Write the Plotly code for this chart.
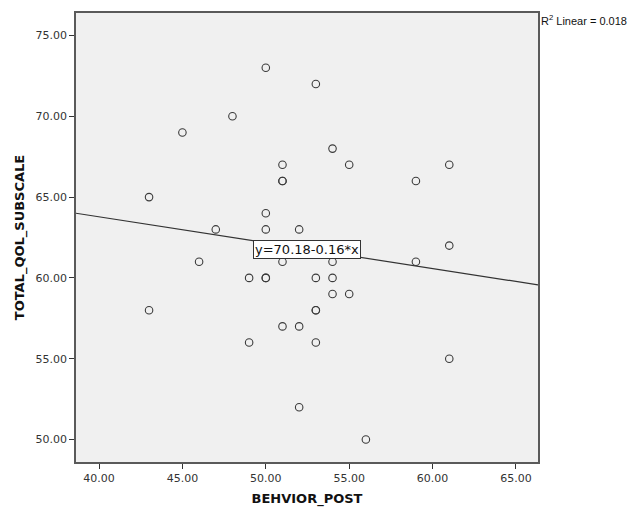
import plotly.graph_objects as go
import numpy as np

behavior_post = [43, 43, 45, 46, 47, 48, 49, 49, 50, 50, 50, 50, 50,
                 51, 51, 51, 51, 51, 52, 52, 52, 53, 53, 53, 53, 53,
                 54, 54, 54, 54, 55, 55, 56, 59, 59, 61, 61, 61]
total_qol = [65, 58, 69, 61, 63, 70, 60, 56, 73, 64, 63, 60, 60,
             67, 66, 66, 61, 57, 63, 57, 52, 72, 60, 58, 58, 56,
             68, 61, 60, 59, 67, 59, 50, 66, 61, 67, 62, 55]

fit_intercept = 70.18
fit_slope = -0.16
r2_linear = 0.018

x_range = [38.62, 66.32]
y_range = [48.61, 76.39]
x_ticks = [40, 45, 50, 55, 60, 65]
y_ticks = [50, 55, 60, 65, 70, 75]

fig = go.Figure()

line_x = np.array(x_range)
line_y = fit_intercept + fit_slope * line_x
fig.add_trace(go.Scatter(x=line_x, y=line_y, mode="lines",
                         line=dict(color="#333333", width=1.2),
                         hoverinfo="skip", showlegend=False))

fig.add_trace(go.Scatter(x=behavior_post, y=total_qol, mode="markers",
                         marker=dict(symbol="circle-open", size=7.5,
                                     color="#3a3a3a", line=dict(width=1.1)),
                         showlegend=False))

mid_x = (x_range[0] + x_range[1]) / 2
mid_y = fit_intercept + fit_slope * mid_x
fig.add_annotation(x=mid_x, y=mid_y, xref="x", yref="y",
                   text=f"y={fit_intercept:.2f}{fit_slope:+.2f}*x",
                   showarrow=False, bgcolor="white", bordercolor="#333333",
                   borderwidth=1, borderpad=1,
                   font=dict(family="DejaVu Sans", size=13, color="#111111"))

fig.add_annotation(x=1.0, y=1.0, xref="paper", yref="paper",
                   xanchor="left", yanchor="top", xshift=1, yshift=2,
                   text=f"R<sup>2</sup> Linear = {r2_linear:.3f}",
                   showarrow=False,
                   font=dict(family="Liberation Sans", size=11, color="#111111"))

axis_common = dict(showgrid=False, zeroline=False, showline=True, mirror=True,
                   linecolor="#5a5a5a", linewidth=1.5, ticks="outside",
                   ticklen=5, tickcolor="#333333", tickwidth=1,
                   tickfont=dict(family="DejaVu Sans", size=11, color="#333333"))

fig.update_xaxes(range=x_range, tickvals=x_ticks,
                 ticktext=[f"{v:.2f}" for v in x_ticks],
                 title=dict(text="<b>BEHVIOR_POST</b>", standoff=11,
                            font=dict(family="DejaVu Sans", size=13, color="#111111")),
                 **axis_common)
fig.update_yaxes(range=y_range, tickvals=y_ticks,
                 ticktext=[f"{v:.2f}" for v in y_ticks],
                 title=dict(text="<b>TOTAL_QOL_SUBSCALE</b>", standoff=8,
                            font=dict(family="DejaVu Sans", size=13, color="#111111")),
                 **axis_common)

fig.update_layout(width=630, height=499,
                  margin=dict(l=68, r=100, t=5, b=45, autoexpand=False),
                  paper_bgcolor="white", plot_bgcolor="#f0f0f0",
                  font=dict(family="DejaVu Sans"))

fig.write_html("out.html")
